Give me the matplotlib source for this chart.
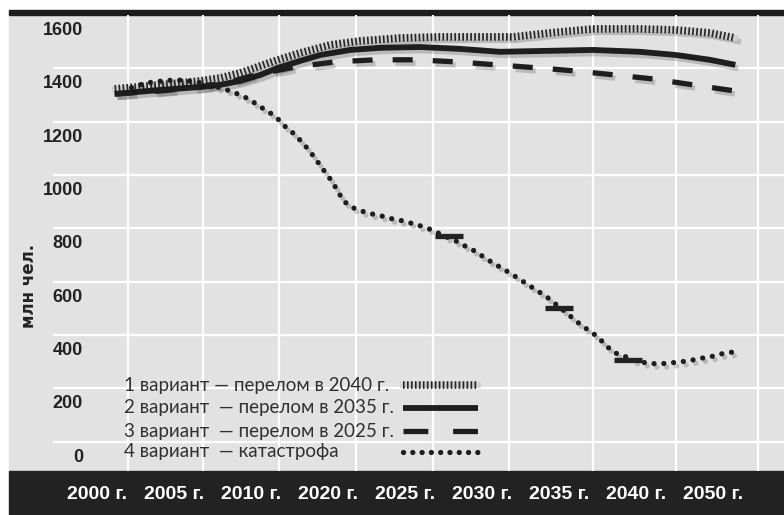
import matplotlib
matplotlib.use("Agg")
import matplotlib.pyplot as plt
import matplotlib.patheffects as pe
from matplotlib.patches import Rectangle
from matplotlib.lines import Line2D

# подписи оси X (позиции 0..8)
years = ["2000 г.", "2005 г.", "2010 г.", "2020 г.", "2025 г.",
         "2030 г.", "2035 г.", "2040 г.", "2050 г."]
y_ticks = [0, 200, 400, 600, 800, 1000, 1200, 1400, 1600]

# 1 вариант — перелом в 2040 г.
v1_x = [0.23, 0.82, 1.34, 1.60, 1.86, 2.12, 2.35, 2.64, 3.03, 3.42,
        3.94, 4.45, 4.97, 5.40, 5.88, 6.44, 7.05, 7.52, 7.96, 8.29]
v1_y = [1373, 1388, 1403, 1414, 1433, 1459, 1482, 1508, 1538, 1553,
        1564, 1568, 1568, 1568, 1583, 1598, 1598, 1594, 1583, 1564]

# 2 вариант — перелом в 2035 г.
v2_x = [0.23, 0.82, 1.34, 1.60, 1.86, 2.12, 2.35, 2.64, 2.90, 3.29,
        3.68, 4.19, 4.71, 5.23, 5.75, 6.44, 7.05, 7.52, 7.96, 8.29]
v2_y = [1354, 1369, 1380, 1388, 1403, 1425, 1452, 1478, 1500, 1519,
        1527, 1530, 1523, 1512, 1515, 1519, 1512, 1500, 1482, 1463]

# 3 вариант — перелом в 2025 г.
v3_x = [0.23, 0.82, 1.34, 1.73, 2.05, 2.57, 3.09, 3.61, 4.14, 4.68,
        5.19, 5.71, 6.22, 6.73, 7.23, 7.74, 8.29]
v3_y = [1354, 1365, 1380, 1399, 1425, 1455, 1474, 1482, 1482, 1474,
        1463, 1452, 1440, 1425, 1410, 1388, 1365]

# 4 вариант — катастрофа
v4_x = [0.45, 0.60, 0.73, 0.87, 1.03, 1.30, 1.45, 1.60, 1.73, 1.86,
        1.99, 2.10, 2.23, 2.35, 2.45, 2.56, 2.66, 2.75, 2.84, 2.92,
        3.01, 3.13, 3.19, 3.30, 3.43, 3.57, 3.70, 3.84, 3.97, 4.12,
        4.25, 4.38, 4.51, 4.64, 4.75, 4.88, 5.12, 5.36, 5.60, 5.84,
        6.05, 6.27, 6.49, 6.70, 6.87, 7.00, 7.14, 7.29, 7.43, 7.58,
        7.73, 7.87, 8.01, 8.16, 8.27]
v4_y = [1377, 1392, 1399, 1403, 1407, 1399, 1388, 1377, 1365, 1350,
        1332, 1309, 1287, 1260, 1230, 1204, 1174, 1144, 1110, 1077,
        1043, 990, 956, 930, 915, 904, 896, 885, 878, 866,
        855, 840, 821, 806, 788, 769, 724, 683, 638, 593,
        544, 491, 446, 386, 368, 353, 345, 341, 345, 349,
        356, 364, 371, 383, 386]

# короткие штрихи на линии 4 варианта
marks_x = [4.57, 6.00, 6.90]
marks_y = [821, 551, 356]

labels = ["1 вариант — перелом в 2040 г.",
          "2 вариант  — перелом в 2035 г.",
          "3 вариант  — перелом в 2025 г.",
          "4 вариант  — катастрофа"]

W, H = 784, 515
fig = plt.figure(figsize=(W / 100, H / 100), dpi=100)
fig.patch.set_facecolor("white")

# фон, верхняя полоса и нижняя чёрная плашка
fig.add_artist(Rectangle((9 / W, (H - 471) / H), (W - 9) / W, (471 - 15) / H,
                         transform=fig.transFigure, color="#e2e2e2", zorder=-2))
fig.add_artist(Rectangle((9 / W, (H - 15) / H), (W - 9) / W, 5 / H,
                         transform=fig.transFigure, color="#1c1c1c", zorder=-1))
fig.add_artist(Rectangle((9 / W, 0), (W - 9) / W, (H - 471) / H,
                         transform=fig.transFigure, color="#222222", zorder=-1))

ax = fig.add_axes([53 / W, (H - 471) / H, (W - 53) / W, (471 - 15) / H])
ax.patch.set_alpha(0)
for s in ax.spines.values():
    s.set_visible(False)
ax.set_xlim(-0.571, 8.922)
ax.set_ylim(-60, 1650)

# сетка
ax.set_xticks([0.40, 1.38, 2.36, 3.36, 4.36, 5.35, 6.44, 7.52, 8.58], minor=True)
ax.set_yticks([50, 250, 450, 650, 850, 1050, 1250, 1450], minor=True)
ax.grid(which="minor", color="white", lw=1.6)
ax.grid(which="major", visible=False)
ax.set_axisbelow(True)

ax.set_xticks(range(len(years)))
ax.set_xticklabels(years, color="white", fontsize=14, fontweight="bold",
                   family="Liberation Sans")
ax.set_yticks(y_ticks)
ax.set_yticklabels([str(v) for v in y_ticks], color="#222222", fontsize=13,
                   fontweight="bold", family="Liberation Sans")
ax.tick_params(which="both", length=0)
ax.tick_params(axis="x", pad=11)
ax.tick_params(axis="y", pad=-21.6)

shadow = [pe.SimpleLineShadow(offset=(2, -2.5), shadow_color="black", alpha=0.18),
          pe.Normal()]

# стили линий: (основа, штриховка) для варианта 1, затем 2, 3, 4
st1_base = dict(color="#cfcfcf", lw=4)
st1_hatch = dict(color="#262626", lw=5.5, dashes=(0.22, 0.3))
st2 = dict(color="#1e1e1e", lw=4.2, solid_capstyle="butt")
st3 = dict(color="#1e1e1e", lw=3.8, dashes=(3.8, 3.8), dash_capstyle="butt")
st4 = dict(color="#1e1e1e", lw=3.8, dashes=(0.01, 1.85), dash_capstyle="round")

ax.plot(v1_x, v1_y, path_effects=shadow, zorder=2, **st1_base)
ax.plot(v1_x, v1_y, zorder=3, **st1_hatch)
ax.plot(v2_x, v2_y, path_effects=shadow, zorder=4, **st2)
ax.plot(v3_x, v3_y, path_effects=shadow, zorder=5, **st3)
ax.plot(v4_x, v4_y, path_effects=shadow, zorder=6, **st4)
ax.plot(marks_x, marks_y, ls="none", marker="_", markersize=20, mew=3.8,
        color="#222222", zorder=7)

fig.text(29 / W, 1 - 286 / H, "млн чел.", rotation=90, ha="center", va="center",
         fontsize=12, fontweight="bold", color="#222222")

# легенда: текст слева, образец линии справа
row_y = [385, 408, 431, 452]
leg_styles = [[st1_base, st1_hatch], [st2],
              [dict(st3, dashes=(4.7, 4.7))], [dict(st4, dashes=(0.01, 1.75))]]
for lab, ry, styles in zip(labels, row_y, leg_styles):
    fig.text(124 / W, 1 - ry / H, lab, ha="left", va="center", fontsize=13.5,
             family="Lato", color="#303030")
    for st in styles:
        fig.add_artist(Line2D([403 / W, 478 / W], [1 - ry / H, 1 - ry / H],
                              transform=fig.transFigure, **st))

fig.savefig("out.png", dpi=100)
